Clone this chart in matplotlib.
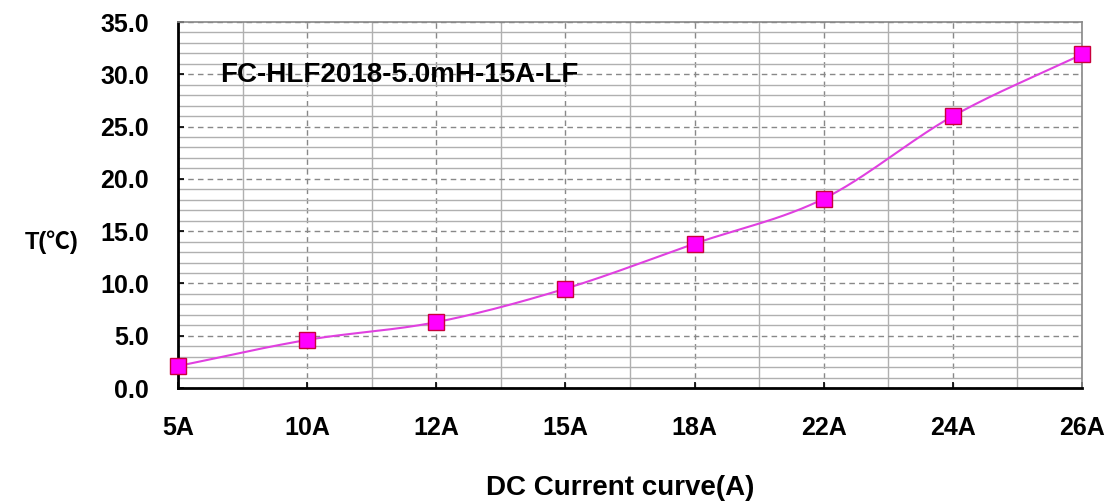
import numpy as np
import matplotlib
matplotlib.use("Agg")
import matplotlib.pyplot as plt
from matplotlib.ticker import MultipleLocator

categories = ["5A", "10A", "12A", "15A", "18A", "22A", "24A", "26A"]
temps = [2.1, 4.6, 6.3, 9.5, 13.8, 18.1, 26.0, 31.9]
yticks = [0, 5, 10, 15, 20, 25, 30, 35]
title_text = "FC-HLF2018-5.0mH-15A-LF"

plt.rcParams['font.family'] = ['Liberation Sans', 'Noto Sans CJK SC', 'DejaVu Sans']

fig = plt.figure(figsize=(11.09, 5.03), dpi=100)
ax = fig.add_axes([178/1109, 1 - 388/503, (1082-178)/1109, (388-22)/503])

x = np.arange(len(categories))
y = np.array(temps)

# smooth curve (Catmull-Rom through the data points, like Excel smoothing)
def catmull(xp, yp, n=30):
    P = np.column_stack([xp, yp]).astype(float)
    P = np.vstack([2*P[0]-P[1], P, 2*P[-1]-P[-2]])
    out = []
    for i in range(1, len(P)-2):
        p0, p1, p2, p3 = P[i-1], P[i], P[i+1], P[i+2]
        t = np.linspace(0, 1, n)[:, None]
        seg = 0.5*((2*p1) + (-p0+p2)*t + (2*p0-5*p1+4*p2-p3)*t**2 + (-p0+3*p1-3*p2+p3)*t**3)
        out.append(seg)
    s = np.vstack(out)
    return s[:, 0], s[:, 1]

sx, sy = catmull(x, y)
ax.plot(sx, sy, color="#E040E0", lw=1.5, zorder=3, clip_on=False)
ax.plot(x, y, ls="none", marker="s", ms=11, mfc="#FF00FF", mec="#C8003C", mew=1.0, zorder=4, clip_on=False)

ax.set_xlim(0, len(categories)-1)
ax.set_ylim(0, 35)
ax.set_yticks(yticks)
ax.set_yticklabels([f"{v:.1f}" for v in yticks])
ax.yaxis.set_minor_locator(MultipleLocator(1))
ax.set_xticks(x)
ax.set_xticklabels(categories)
ax.xaxis.set_minor_locator(MultipleLocator(0.5))

ax.grid(which="major", axis="both", color="#888888", ls=(0, (4, 3)), lw=1.0)
ax.grid(which="minor", axis="both", color="#B0B0B0", ls="-", lw=1.0)
ax.set_axisbelow(True)

for s in ["left", "bottom"]:
    ax.spines[s].set_color("black")
    ax.spines[s].set_linewidth(2.0)
for s in ["top", "right"]:
    ax.spines[s].set_color("#888888")
    ax.spines[s].set_linewidth(1.2)

ax.tick_params(which="minor", length=0)
ax.tick_params(which="major", length=4, width=1.2, direction="in", labelsize=18)
ax.tick_params(axis="y", pad=21)
ax.tick_params(axis="x", pad=20)
for lab in ax.get_xticklabels() + ax.get_yticklabels():
    lab.set_fontweight("bold")

ax.text((220-178)/((1082-178)/7), 29.9, title_text, fontsize=20, fontweight="bold", va="center", ha="left")

fig.text(52/1109, 1 - 242/503, "T(℃)", fontsize=17, fontweight="bold", ha="center", va="center")
fig.text(620/1109, 1 - 488/503, "DC Current curve(A)", fontsize=20, fontweight="bold", ha="center", va="center")

fig.savefig("out.png", dpi=100)
